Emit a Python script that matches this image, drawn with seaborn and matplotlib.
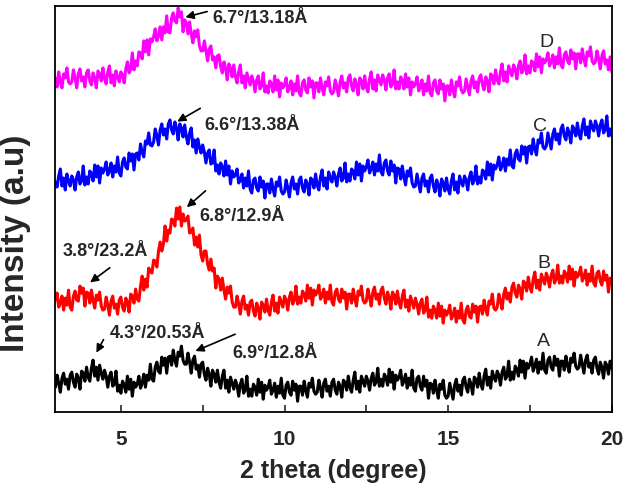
import numpy as np
import pandas as pd
import matplotlib
matplotlib.use("Agg")
import matplotlib.pyplot as plt
import seaborn as sns

sns.set_theme(style="ticks")
plt.rcParams['font.family'] = ['Liberation Sans', 'DejaVu Sans']

# 2 theta grid, 0.05 degree steps from 3 to 20
two_theta = np.round(np.arange(60, 401) * 0.05, 2)

# intensities (arbitrary units, curves stacked), one row = 0.5 degree
int_D = [334, 325, 340, 330, 324, 338, 334, 344, 330, 328,
         330, 342, 334, 324, 338, 343, 331, 335, 325, 339,
         342, 331, 327, 339, 334, 324, 341, 338, 331, 344,
         333, 328, 340, 346, 329, 337, 326, 341, 335, 330,
         340, 337, 329, 343, 350, 339, 343, 359, 342, 351,
         346, 360, 359, 353, 371, 360, 372, 357, 373, 370,
         375, 383, 371, 376, 385, 372, 385, 379, 396, 380,
         379, 394, 399, 391, 389, 404, 395, 400, 380, 392,
         389, 378, 390, 378, 369, 381, 375, 382, 366, 361,
         361, 371, 361, 351, 363, 366, 352, 355, 344, 356,
         357, 345, 339, 350, 344, 332, 348, 344, 335, 347,
         335, 329, 340, 347, 329, 336, 324, 339, 333, 327,
         336, 331, 320, 332, 336, 323, 326, 339, 320, 326,
         319, 331, 328, 320, 336, 322, 332, 315, 329, 324,
         327, 334, 320, 324, 331, 317, 328, 321, 336, 319,
         316, 329, 332, 322, 319, 334, 325, 331, 314, 329,
         329, 320, 334, 324, 317, 330, 326, 335, 321, 318,
         320, 332, 325, 316, 330, 336, 324, 329, 320, 334,
         337, 326, 321, 333, 328, 317, 334, 331, 323, 336,
         325, 320, 333, 340, 323, 332, 321, 337, 332, 327,
         337, 332, 322, 334, 338, 325, 328, 342, 323, 330,
         323, 335, 331, 323, 338, 325, 334, 317, 330, 325,
         328, 335, 321, 325, 332, 317, 328, 321, 336, 319,
         316, 329, 332, 321, 318, 332, 323, 328, 311, 326,
         326, 317, 332, 322, 315, 330, 326, 335, 322, 319,
         321, 333, 325, 317, 331, 336, 324, 330, 320, 334,
         337, 327, 322, 335, 331, 320, 338, 336, 328, 342,
         332, 328, 340, 348, 331, 340, 330, 346, 341, 336,
         347, 343, 333, 346, 351, 339, 342, 357, 338, 346,
         339, 351, 349, 341, 358, 345, 355, 339, 353, 349,
         352, 359, 346, 350, 357, 344, 355, 348, 364, 347,
         344, 357, 360, 351, 348, 362, 353, 359, 343, 358,
         358, 349, 363, 353, 346, 360, 356, 365, 351, 348,
         350, 361, 353, 343, 356, 361, 348, 352, 342, 355,
         340]

int_C = [230, 225, 236, 243, 226, 234, 222, 238, 231, 226,
         236, 232, 222, 235, 240, 228, 231, 246, 227, 235,
         228, 241, 238, 231, 247, 235, 246, 229, 244, 239,
         243, 250, 237, 241, 249, 235, 246, 240, 255, 239,
         236, 250, 254, 245, 243, 259, 251, 258, 242, 258,
         259, 252, 268, 260, 255, 271, 268, 279, 267, 266,
         270, 283, 276, 267, 282, 288, 277, 283, 273, 288,
         292, 282, 278, 290, 284, 272, 288, 284, 275, 287,
         275, 268, 279, 284, 265, 272, 259, 273, 265, 259,
         267, 260, 249, 259, 262, 248, 249, 262, 241, 247,
         238, 249, 245, 236, 251, 237, 246, 228, 241, 235,
         237, 243, 229, 232, 238, 224, 234, 226, 241, 223,
         219, 232, 234, 224, 221, 235, 225, 231, 214, 228,
         228, 219, 233, 223, 216, 230, 226, 235, 221, 218,
         220, 232, 224, 215, 229, 235, 223, 228, 218, 232,
         235, 224, 220, 232, 228, 217, 234, 232, 224, 238,
         227, 222, 235, 242, 226, 234, 223, 240, 234, 230,
         240, 235, 226, 238, 244, 231, 234, 249, 230, 238,
         231, 243, 241, 233, 250, 237, 248, 231, 246, 241,
         245, 252, 239, 243, 250, 237, 248, 241, 257, 240,
         237, 249, 252, 241, 237, 251, 241, 247, 229, 244,
         243, 233, 246, 235, 227, 241, 236, 244, 229, 225,
         226, 238, 229, 220, 234, 238, 226, 231, 220, 234,
         237, 226, 220, 232, 227, 216, 233, 229, 221, 234,
         223, 218, 231, 238, 222, 230, 219, 236, 230, 226,
         236, 232, 222, 235, 240, 228, 232, 246, 228, 235,
         229, 242, 240, 233, 250, 237, 248, 232, 247, 243,
         247, 255, 242, 246, 254, 241, 253, 247, 262, 246,
         244, 258, 262, 253, 251, 266, 258, 265, 249, 265,
         266, 258, 273, 263, 257, 272, 269, 279, 265, 263,
         266, 279, 271, 263, 278, 283, 272, 278, 268, 283,
         287, 276, 272, 284, 279, 269, 286, 283, 276, 289,
         278, 273, 286, 293, 277, 285, 274, 291, 285, 281,
         291, 286, 276, 287, 292, 279, 282, 296, 276, 283,
         276]

int_B = [112, 119, 105, 109, 116, 102, 114, 107, 122, 105,
         102, 116, 121, 112, 111, 126, 119, 124, 106, 120,
         119, 109, 122, 112, 104, 117, 112, 120, 106, 102,
         103, 115, 107, 97, 111, 116, 104, 108, 98, 112,
         115, 105, 101, 114, 110, 100, 118, 116, 109, 123,
         113, 111, 126, 136, 122, 133, 125, 144, 141, 139,
         152, 151, 145, 161, 170, 161, 168, 186, 171, 182,
         179, 193, 192, 186, 204, 193, 205, 186, 198, 191,
         192, 196, 179, 180, 184, 167, 175, 165, 177, 157,
         151, 161, 161, 148, 142, 153, 141, 144, 124, 136,
         133, 122, 134, 122, 113, 125, 119, 126, 110, 105,
         105, 116, 108, 98, 111, 116, 103, 107, 97, 110,
         112, 101, 96, 109, 104, 93, 110, 107, 100, 113,
         102, 97, 110, 117, 101, 109, 99, 115, 110, 105,
         116, 112, 102, 115, 120, 108, 112, 126, 108, 115,
         109, 121, 118, 111, 127, 114, 124, 107, 122, 117,
         120, 127, 113, 116, 123, 109, 120, 113, 127, 110,
         107, 120, 123, 113, 110, 123, 114, 120, 103, 118,
         118, 109, 123, 113, 106, 121, 117, 126, 112, 109,
         111, 123, 115, 106, 120, 125, 113, 118, 108, 122,
         125, 114, 108, 120, 115, 103, 120, 117, 108, 121,
         110, 104, 116, 122, 105, 112, 101, 116, 110, 104,
         114, 108, 98, 109, 113, 99, 102, 115, 95, 102,
         94, 106, 102, 94, 109, 96, 106, 89, 102, 97,
         100, 107, 93, 97, 104, 90, 101, 94, 109, 92,
         89, 102, 106, 96, 94, 108, 100, 106, 90, 105,
         106, 98, 112, 103, 97, 111, 108, 118, 104, 102,
         105, 118, 111, 103, 118, 124, 113, 119, 110, 125,
         129, 119, 115, 127, 123, 113, 131, 129, 121, 135,
         125, 120, 133, 140, 124, 132, 122, 138, 133, 128,
         139, 134, 125, 137, 142, 129, 133, 147, 129, 136,
         129, 141, 138, 130, 146, 133, 143, 126, 140, 135,
         138, 145, 131, 135, 142, 127, 138, 131, 146, 129,
         126, 139, 141, 131, 127, 141, 132, 137, 120, 134,
         128]

int_A = [25, 37, 29, 20, 34, 39, 28, 33, 23, 37,
         40, 30, 25, 38, 34, 23, 41, 39, 31, 45,
         35, 31, 44, 52, 36, 45, 32, 47, 39, 33,
         42, 36, 25, 36, 40, 26, 28, 41, 21, 27,
         19, 31, 28, 20, 36, 23, 33, 16, 30, 25,
         28, 36, 24, 29, 38, 25, 37, 32, 48, 33,
         31, 45, 50, 41, 39, 55, 47, 54, 39, 55,
         56, 47, 62, 52, 46, 60, 56, 66, 52, 48,
         48, 59, 50, 39, 52, 56, 43, 47, 35, 48,
         50, 38, 32, 44, 38, 26, 42, 38, 30, 42,
         30, 24, 36, 42, 24, 32, 20, 35, 29, 23,
         32, 27, 16, 28, 33, 19, 22, 36, 16, 23,
         16, 28, 25, 17, 33, 20, 30, 13, 27, 22,
         25, 32, 18, 22, 29, 15, 26, 19, 34, 17,
         14, 27, 30, 20, 17, 31, 22, 28, 11, 26,
         26, 17, 31, 22, 15, 29, 25, 34, 21, 18,
         20, 32, 24, 15, 29, 33, 21, 26, 16, 30,
         33, 22, 18, 30, 26, 15, 32, 30, 22, 36,
         25, 20, 32, 40, 23, 31, 20, 36, 31, 26,
         36, 31, 22, 34, 39, 27, 30, 44, 26, 33,
         26, 38, 35, 27, 43, 30, 40, 23, 37, 32,
         35, 42, 27, 31, 38, 24, 34, 27, 42, 24,
         21, 34, 36, 26, 22, 36, 26, 32, 14, 29,
         28, 19, 32, 22, 14, 28, 23, 32, 17, 14,
         16, 29, 21, 13, 27, 33, 21, 27, 17, 32,
         35, 25, 20, 33, 28, 18, 35, 33, 25, 39,
         28, 23, 36, 43, 27, 35, 24, 41, 35, 31,
         41, 37, 27, 40, 45, 33, 36, 51, 32, 40,
         33, 46, 43, 36, 52, 40, 51, 34, 49, 44,
         48, 55, 41, 46, 53, 39, 50, 43, 59, 42,
         39, 52, 55, 45, 42, 56, 47, 53, 36, 51,
         51, 42, 56, 47, 40, 54, 50, 59, 46, 43,
         45, 57, 48, 39, 52, 57, 45, 49, 39, 52,
         55, 44, 38, 50, 45, 34, 50, 47, 38, 51,
         44]

samples = ['A', 'B', 'C', 'D']
colors = {'A': '#000000', 'B': '#ff0000', 'C': '#0000ff', 'D': '#ff00ff'}
values = {'A': int_A, 'B': int_B, 'C': int_C, 'D': int_D}

df = pd.concat([pd.DataFrame({'two_theta': two_theta, 'intensity': values[s], 'sample': s})
                for s in samples], ignore_index=True)

fig, ax = plt.subplots(figsize=(6.3, 4.89), dpi=100)
fig.subplots_adjust(left=0.088, right=0.971, top=0.986, bottom=0.155)

sns.lineplot(data=df, x='two_theta', y='intensity', hue='sample', palette=colors,
             linewidth=2.2, legend=False, ax=ax)

ax.set_xlim(3, 20)
ax.set_ylim(0, 406)
ax.set_yticks([])
ax.set_xticks([5, 10, 15, 20])
ax.set_xticks([7.5, 12.5, 17.5], minor=True)
ax.tick_params(axis='x', which='both', direction='in', length=5, width=1.2,
               labelsize=15, pad=12)
for lbl in ax.get_xticklabels():
    lbl.set_fontweight('bold')
for sp in ax.spines.values():
    sp.set_linewidth(1.3)
    sp.set_color('black')

ax.set_xlabel('2 theta (degree)', fontsize=18, fontweight='bold', labelpad=7)
ax.set_ylabel('')
fig.text(16 / 630, 1 - 243 / 489, 'Intensity (a.u)', rotation=90, fontsize=24,
         fontweight='bold', ha='center', va='center')

# peak labels with arrows
notes = [('6.7°/13.18Å', (7.80, 394), (7.72, 401), (6.89, 394)),
         ('6.6°/13.38Å', (7.56, 287), (7.50, 305), (6.65, 289)),
         ('6.8°/12.9Å', (7.41, 197), (7.65, 223), (6.95, 203)),
         ('3.8°/23.2Å', (3.23, 162), (4.73, 146), (3.99, 128)),
         ('4.3°/20.53Å', (4.67, 80), (4.51, 75), (4.21, 57)),
         ('6.9°/12.8Å', (8.42, 60), (8.57, 79), (7.20, 60))]
for txt, pos, tail, head in notes:
    ax.text(pos[0], pos[1], txt, fontsize=13, fontweight='bold', ha='left', va='center')
    ax.annotate('', xy=head, xytext=tail,
                arrowprops=dict(arrowstyle='-|>', color='black', lw=1.2, mutation_scale=12))

for s, (x, y) in {'D': (18.01, 370), 'C': (17.80, 286), 'B': (17.92, 150), 'A': (17.92, 72)}.items():
    ax.text(x, y, s, fontsize=14, ha='center', va='center')

plt.savefig('out.png', dpi=100)
